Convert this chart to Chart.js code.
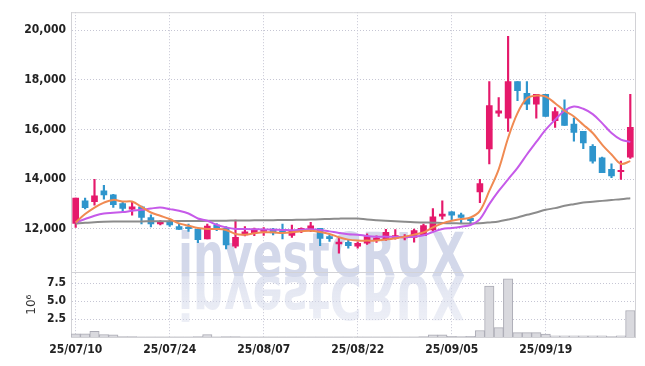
<!DOCTYPE html>
<html>
<head>
<meta charset="utf-8">
<script src="https://cdn.jsdelivr.net/npm/chart.js@4.4.0/dist/chart.umd.min.js"></script>
<style>
  html, body { margin: 0; padding: 0; background: #fff; }
  #wrap { position: relative; width: 645px; height: 366px; }
</style>
</head>
<body>
<div id="wrap"><canvas id="chart" width="645" height="366"></canvas></div>
<script>
// Trading days
const dates = [
  '25/07/10','25/07/11','25/07/14','25/07/15','25/07/16','25/07/17','25/07/18','25/07/21','25/07/22','25/07/23',
  '25/07/24','25/07/25','25/07/28','25/07/29','25/07/30','25/07/31','25/08/01','25/08/04','25/08/05','25/08/06',
  '25/08/07','25/08/08','25/08/11','25/08/12','25/08/13','25/08/14','25/08/18','25/08/19','25/08/20','25/08/21',
  '25/08/22','25/08/25','25/08/26','25/08/27','25/08/28','25/08/29','25/09/01','25/09/02','25/09/03','25/09/04',
  '25/09/05','25/09/08','25/09/09','25/09/10','25/09/11','25/09/12','25/09/15','25/09/16','25/09/17','25/09/18',
  '25/09/19','25/09/22','25/09/23','25/09/24','25/09/25','25/09/26','25/09/29','25/09/30','25/10/01','25/10/02'
];

// OHLC
const opens = [
  12224,13130,13104,13532,13372,13024,12800,12892,12464,12200,
  12304,12092,12080,11984,11600,12160,12024,11304,11760,11850,
  11900,12000,11930,11744,11890,12000,12024,11690,11400,11464,
  11304,11424,11572,11600,11624,11640,11664,11732,11960,12520,
  12692,12572,12424,13492,15224,16664,16464,17932,17464,17024,
  17424,16360,16772,16224,15932,15332,14864,14400,14304,14892
];
const highs = [
  13240,13240,14000,13760,13400,13070,13104,12920,12570,12340,
  12380,12200,12200,11990,12200,12220,12100,12360,12100,12040,
  12060,12030,12200,12160,12050,12270,12030,11750,11640,11560,
  11470,11800,11720,11990,11972,11770,12000,12200,12824,13132,
  12700,12640,12460,14000,17932,17292,19760,17932,17932,17424,
  17424,16892,17200,16464,15932,15400,14900,14624,14732,17424
];
const lows = [
  12064,12812,12960,13200,12864,12704,12560,12200,12080,12160,
  12100,11984,11900,11450,11600,11930,11200,11240,11720,11730,
  11740,11760,11600,11660,11850,11890,11330,11500,11024,11224,
  11230,11380,11460,11540,11590,11560,11464,11732,11920,12400,
  12332,12240,12200,13064,14624,16532,15932,17172,16800,16464,
  16532,16092,16172,15532,15232,14650,14264,14064,14000,14840
];
const closes = [
  13240,12860,13332,13372,12984,12824,12892,12464,12200,12280,
  12160,11984,12010,11572,12120,12000,11360,11664,11890,12000,
  11970,11840,11840,11930,12024,12130,11624,11610,11470,11330,
  11424,11692,11624,11864,11732,11700,11932,12132,12492,12600,
  12560,12464,12332,13824,16968,16760,17932,17572,17024,17424,
  16532,16732,16172,15892,15464,14732,14264,14132,14344,16092
];

// Moving averages
const ma5 = [
  12264,12600,12864,13064,13172,13104,13104,12892,12664,12532,
  12400,12224,12132,12040,12000,12000,11960,11800,11772,11824,
  11864,11864,11840,11864,11904,11932,11880,11800,11670,11572,
  11532,11532,11532,11572,11624,11692,11772,11864,12064,12224,
  12332,12400,12464,12732,13532,14400,15664,16664,17264,17372,
  17332,17064,16760,16532,16200,15864,15400,15000,14624,14732
];
const ma20 = [
  12264,12400,12532,12624,12652,12680,12732,12772,12824,12864,
  12800,12732,12624,12424,12332,12172,12064,12000,12000,11990,
  11980,11970,11960,11950,11972,11990,11960,11904,11840,11790,
  11772,11720,11692,11692,11680,11680,11692,11744,11880,12000,
  12040,12092,12160,12400,13000,13532,14000,14464,15000,15504,
  16000,16400,16760,16932,16840,16624,16264,15864,15600,15504
];
const ma60 = [
  12212,12252,12272,12292,12300,12300,12304,12304,12310,12312,
  12316,12320,12320,12324,12328,12332,12336,12340,12344,12348,
  12352,12356,12360,12364,12372,12380,12392,12404,12416,12424,
  12420,12380,12352,12330,12312,12290,12272,12262,12252,12240,
  12230,12224,12224,12232,12264,12304,12380,12464,12570,12664,
  12772,12840,12932,13000,13064,13100,13132,13168,13200,13240
];

// Volume, millions of shares
const volumes = [
  0.45,0.45,0.8,0.35,0.3,0.06,0.05,0.04,0.04,0.04,
  0.04,0.04,0.04,0.06,0.35,0.04,0.06,0.06,0.04,0.04,
  0.04,0.04,0.04,0.04,0.04,0.04,0.04,0.04,0.04,0.04,
  0.04,0.04,0.04,0.04,0.04,0.04,0.04,0.06,0.3,0.3,
  0.08,0.06,0.08,0.9,7.1,1.3,8.1,0.6,0.6,0.6,
  0.4,0.18,0.18,0.18,0.18,0.18,0.18,0.06,0.18,3.7
];

const priceTicks = [12000, 14000, 16000, 18000, 20000];
const volumeTicks = [2.5, 5.0, 7.5];

const UP = '#e5196b';
const DOWN = '#2f95cc';
const gridColor = '#c6c6d4';
const frameColor = '#d2d2d6';
const labelFont = { family: '"DejaVu Sans Condensed", "DejaVu Sans", sans-serif', size: 12, weight: 'bold' };

const candleColors = opens.map((o, i) => closes[i] >= o ? UP : DOWN);

// Frame around the panels
const framePlugin = {
  id: 'frame',
  afterDatasetsDraw(chart) {
    const { ctx, chartArea } = chart;
    const yv = chart.scales.yv;
    ctx.save();
    ctx.strokeStyle = frameColor;
    ctx.lineWidth = 1;
    ctx.beginPath();
    ctx.moveTo(chartArea.left, chartArea.top + 0.5);
    ctx.lineTo(chartArea.right + 0.5, chartArea.top + 0.5);
    ctx.lineTo(chartArea.right + 0.5, chartArea.bottom);
    ctx.moveTo(chartArea.left, Math.round(yv.top) + 0.5);
    ctx.lineTo(chartArea.right, Math.round(yv.top) + 0.5);
    ctx.stroke();
    ctx.restore();
  }
};

// Watermark with its reflection
const watermarkPlugin = {
  id: 'watermark',
  beforeDatasetsDraw(chart) {
    const ctx = chart.ctx;
    const text = 'investCRUX';
    ctx.save();
    ctx.font = 'bold 60px "DejaVu Sans", sans-serif';
    const sx = 287 / ctx.measureText(text).width;
    ctx.translate(178, 276);
    ctx.scale(sx, 1);
    ctx.fillStyle = '#d3d8ea';
    ctx.fillText(text, 0, 0);
    ctx.scale(1, -1);
    const g = ctx.createLinearGradient(0, 0, 0, -46);
    g.addColorStop(0, 'rgba(211,216,234,0.7)');
    g.addColorStop(1, 'rgba(211,216,234,0.4)');
    ctx.fillStyle = g;
    ctx.fillText(text, 0, 0);
    ctx.restore();
  }
};

new Chart(document.getElementById('chart'), {
  type: 'bar',
  data: {
    labels: dates,
    datasets: [
      { type: 'line', data: ma5, yAxisID: 'y', borderColor: '#f08a52', borderWidth: 2, pointRadius: 0, tension: 0.35, order: 0 },
      { type: 'line', data: ma20, yAxisID: 'y', borderColor: '#c65ae9', borderWidth: 2, pointRadius: 0, tension: 0.35, order: 0 },
      { type: 'line', data: ma60, yAxisID: 'y', borderColor: '#8c8c8c', borderWidth: 2, pointRadius: 0, tension: 0.35, order: 0 },
      {
        data: lows.map((l, i) => [l, highs[i]]), yAxisID: 'y',
        backgroundColor: candleColors, barThickness: 1.5, grouped: false, order: 2
      },
      {
        data: opens.map((o, i) => [o, closes[i]]), yAxisID: 'y',
        backgroundColor: candleColors, barThickness: 6, minBarLength: 1.5, grouped: false, order: 1
      },
      {
        data: volumes, yAxisID: 'yv',
        backgroundColor: '#d9d9de', borderColor: '#aaaab4', borderWidth: 1,
        barPercentage: 1, categoryPercentage: 1, grouped: false, order: 3
      }
    ]
  },
  options: {
    responsive: false,
    animation: false,
    devicePixelRatio: 1,
    layout: { padding: { top: 10, right: 10, left: 0, bottom: 0 } },
    plugins: { legend: { display: false }, tooltip: { enabled: false } },
    scales: {
      x: {
        type: 'category',
        offset: true,
        grid: {
          offset: false, drawTicks: false,
          color: c => (c.index % 10 === 0 ? gridColor : 'rgba(0,0,0,0)')
        },
        border: { display: true, color: frameColor, dash: [1, 2] },
        ticks: {
          autoSkip: false, maxRotation: 0, minRotation: 0, padding: 6,
          color: '#222', font: labelFont,
          callback: (v, i) => (i % 10 === 0 ? dates[i] : '')
        },
        afterFit: s => { s.height = 29; }
      },
      // volume axis listed first so it is stacked below the price axis
      yv: {
        position: 'left', stack: 'panels', stackWeight: 65,
        min: 0, max: 9,
        afterBuildTicks: s => { s.ticks = volumeTicks.map(v => ({ value: v })); },
        ticks: { padding: 5, color: '#222', font: labelFont, callback: v => v.toFixed(1) },
        title: { display: true, text: '10⁶', color: '#333', font: { family: '"DejaVu Sans", sans-serif', size: 12 }, padding: { top: 25, bottom: 0 } },
        grid: { drawTicks: false, color: gridColor },
        border: { display: true, color: frameColor, dash: [1, 2] },
        afterFit: s => { s.width = 71; }
      },
      y: {
        position: 'left', stack: 'panels', stackWeight: 262,
        min: 10250, max: 20730,
        afterBuildTicks: s => { s.ticks = priceTicks.map(v => ({ value: v })); },
        ticks: { padding: 5, color: '#222', font: labelFont, callback: v => v.toLocaleString('en-US') },
        grid: { drawTicks: false, color: gridColor },
        border: { display: true, color: frameColor, dash: [1, 2] },
        afterFit: s => { s.width = 71; }
      }
    }
  },
  plugins: [watermarkPlugin, framePlugin]
});
</script>
</body>
</html>
